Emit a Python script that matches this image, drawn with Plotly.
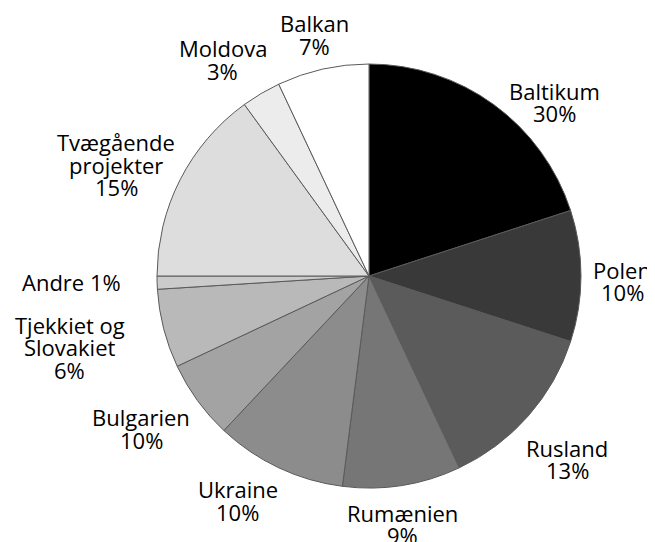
import math
import plotly.graph_objects as go

# ---- data ----
regions = ["Baltikum", "Polen", "Rusland", "Rumænien", "Ukraine", "Bulgarien",
           "Tjekkiet og Slovakiet", "Andre", "Tvægående projekter", "Moldova", "Balkan"]
shares = [20, 10, 13, 9, 10, 6, 6, 1, 15, 3, 7]          # slice sizes as drawn
label_text = [["Baltikum", "30%"], ["Polen", "10%"], ["Rusland", "13%"],
              ["Rumænien", "9%"], ["Ukraine", "10%"], ["Bulgarien", "10%"],
              ["Tjekkiet og", "Slovakiet", "6%"], ["Andre 1%"],
              ["Tvægående", "projekter", "15%"], ["Moldova", "3%"], ["Balkan", "7%"]]

# ---- style / layout ----
colors = ["#000000", "#393939", "#5b5b5b", "#767676", "#8c8c8c", "#a3a3a3",
          "#b9b9b9", "#cbcbcb", "#dddddd", "#ececec", "#ffffff"]
W, H = 655, 542
page_off = 8  # default page body margin
cx, cy, R = 369 - page_off, 276 - page_off, 212
label_dist = [254.6, 253.5, 269.6, 250.2, 259.9, 274.3, 307.4, 298.0, 276.3, 261.1, 247.7]
label_nudge = [10.9, 1.1, 1.3, 1.4, 5.1, 2.2, 1.0, 0.7, -3.3, -3.4, -0.1]
line_gap = 22.5
font = dict(family="Open Sans, Noto Sans, sans-serif", size=22, color="#000000")

fig = go.Figure(go.Pie(
    labels=regions, values=shares, sort=False, direction="clockwise", rotation=0,
    marker=dict(colors=colors, line=dict(color="#5a5a5a", width=1)),
    textinfo="none", hoverinfo="label+value", showlegend=False,
    domain=dict(x=[(cx - R) / W, (cx + R) / W], y=[(H - cy - R) / H, (H - cy + R) / H]),
))

total = sum(shares)
cum = 0
annotations = []
for i, v in enumerate(shares):
    mid = (cum + v / 2) / total * 360.0
    cum += v
    a = math.radians(mid + label_nudge[i])
    px = cx + label_dist[i] * math.sin(a)
    py = cy - label_dist[i] * math.cos(a)
    lines = label_text[i]
    n = len(lines)
    for j, t in enumerate(lines):
        off = (j - (n - 1) / 2) * line_gap
        annotations.append(dict(
            x=px / W, y=1 - py / H, xref="paper", yref="paper",
            text=t, showarrow=False, xanchor="center", yanchor="middle",
            yshift=-off, font=font))

fig.update_layout(width=W, height=H, margin=dict(l=0, r=0, t=0, b=0),
                  paper_bgcolor="white", plot_bgcolor="white",
                  annotations=annotations)
fig.write_html("out.html")
